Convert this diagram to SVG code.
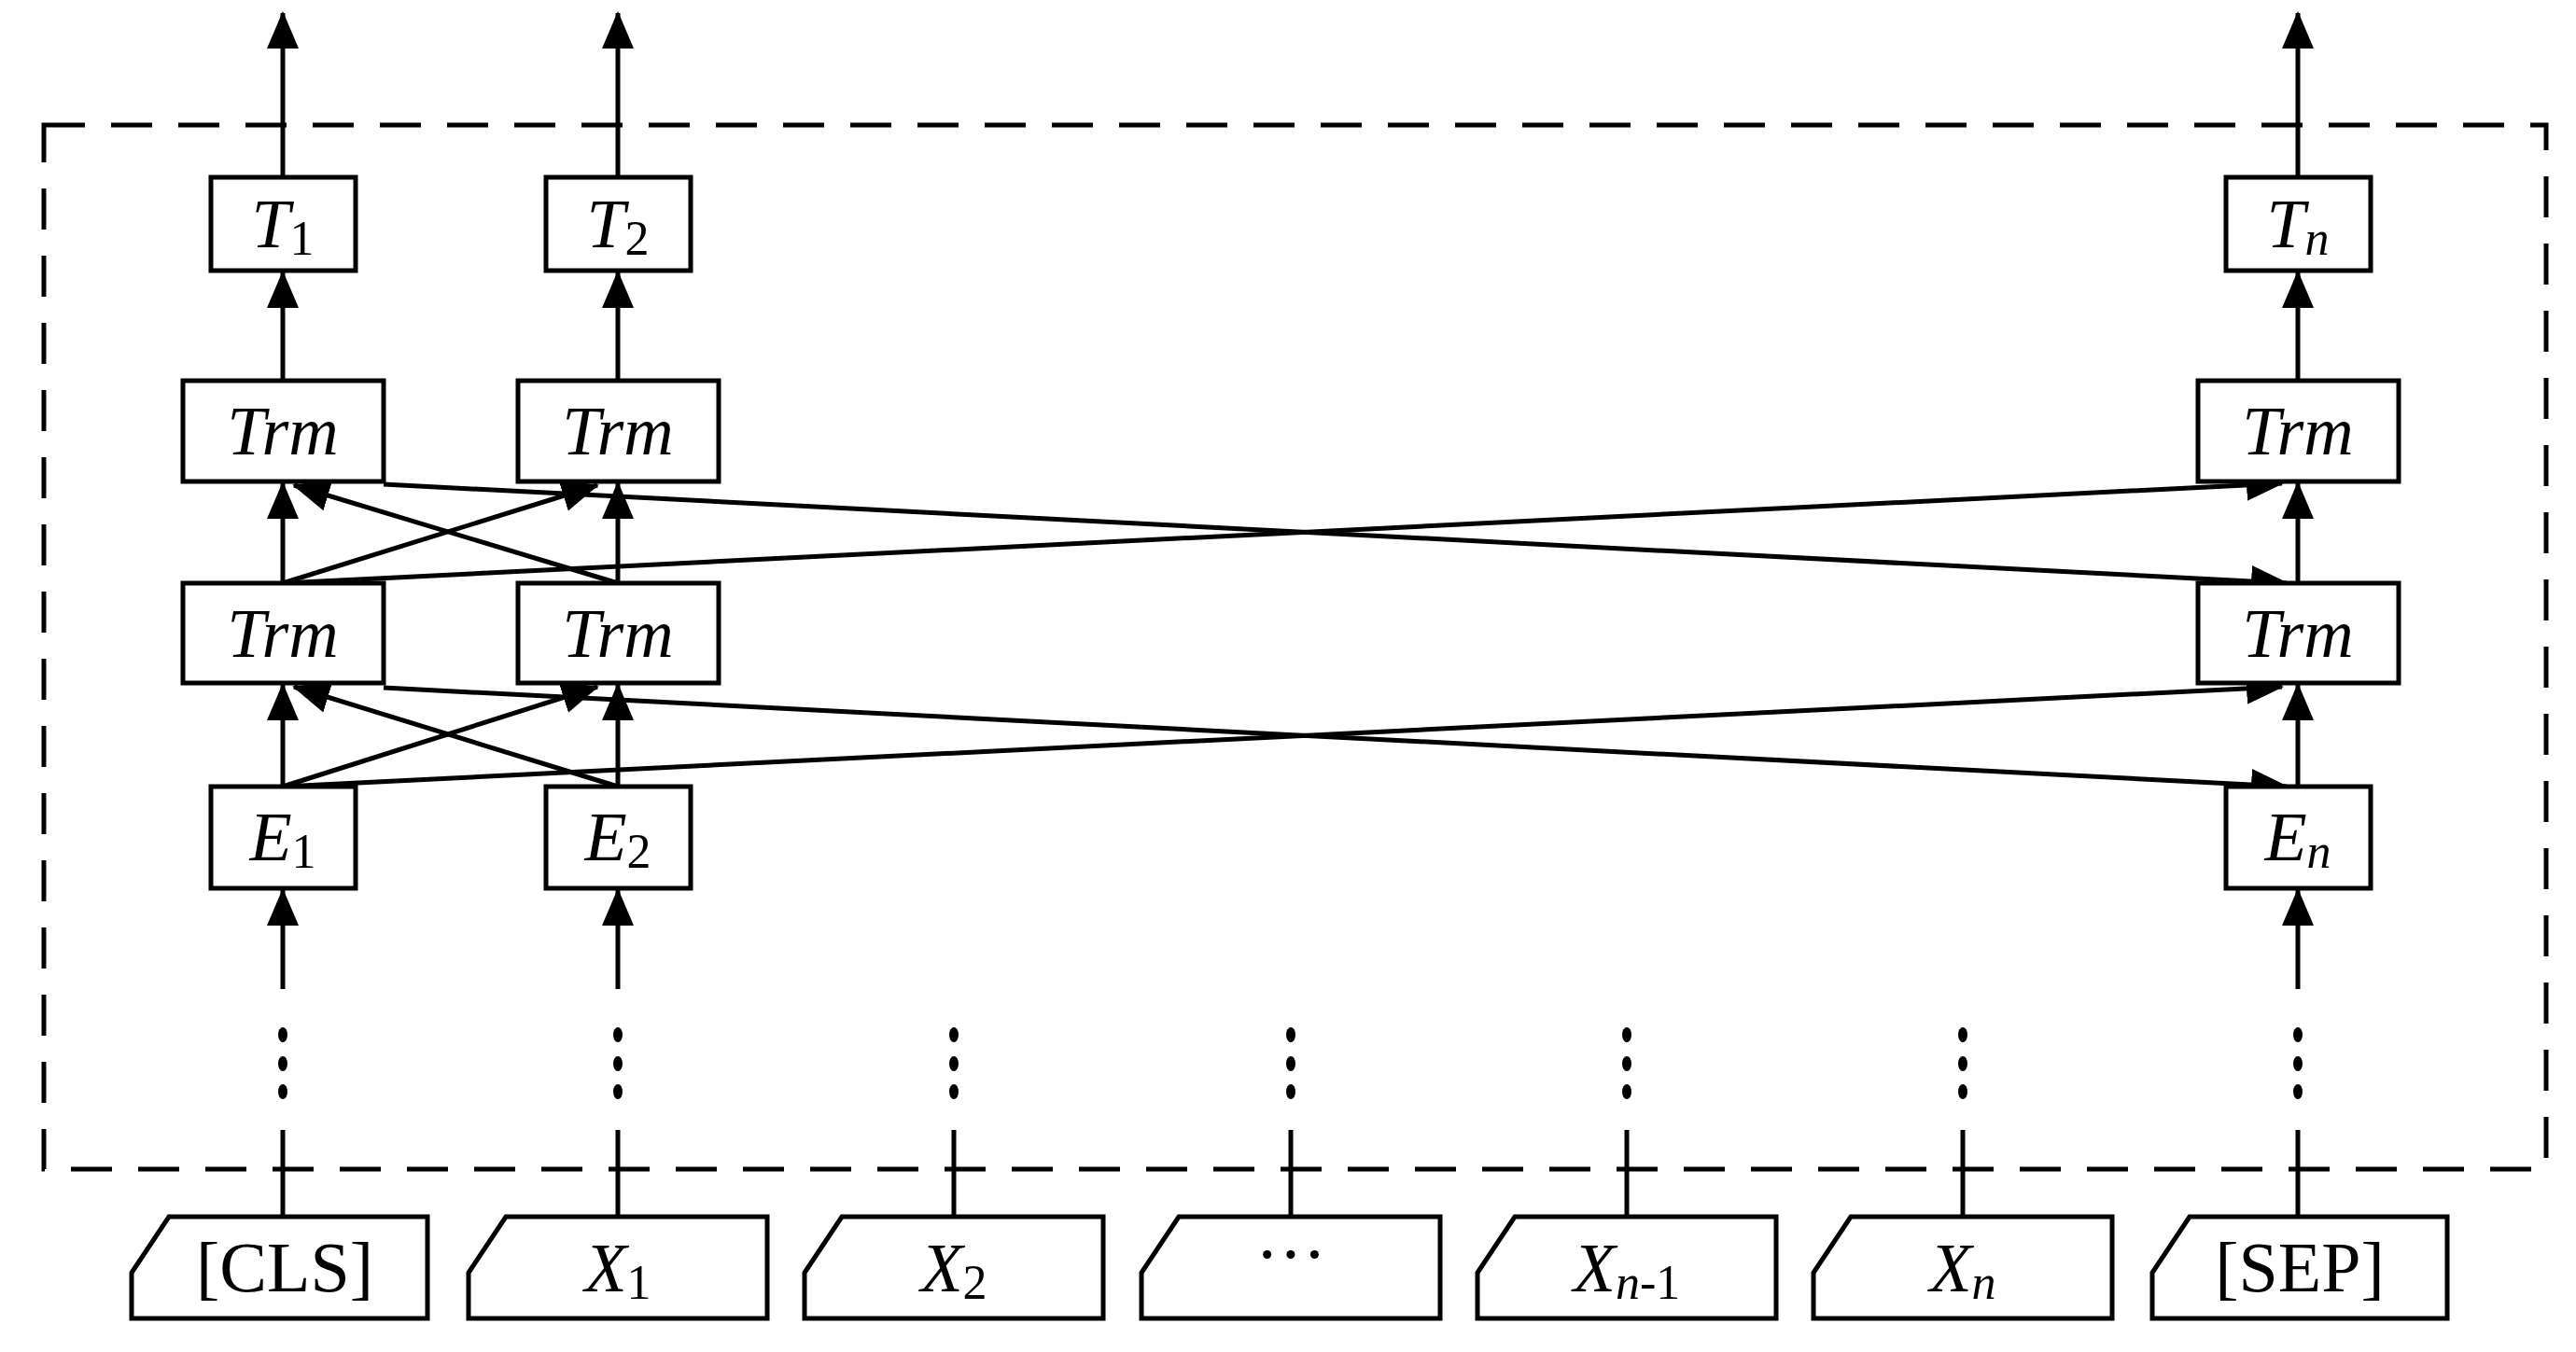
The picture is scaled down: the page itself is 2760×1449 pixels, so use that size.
<svg xmlns="http://www.w3.org/2000/svg" width="2760" height="1449" viewBox="0 0 2760 1449">
<defs>
<marker id="ah" markerUnits="userSpaceOnUse" markerWidth="40" markerHeight="40" viewBox="0 0 40 40" refX="38" refY="20" orient="auto"><path d="M0,3 L40,20 L0,37 Z" fill="#000"/></marker>
</defs>
<style>
.b{fill:#fff;stroke:#000;stroke-width:5}
.l{stroke:#000;stroke-width:5;fill:none}
.a{stroke:#000;stroke-width:5;fill:none;marker-end:url(#ah)}
.t{font-family:"Liberation Serif",serif;font-style:italic;font-size:74px;text-anchor:middle}
.s{font-size:52px;font-style:normal}
.si{font-size:52px}
.r{font-family:"Liberation Serif",serif;font-size:76px;text-anchor:middle}
</style>
<rect x="47" y="134" width="2681" height="1119" fill="none" stroke="#000" stroke-width="5" stroke-dasharray="44 28"/>
<g id="connectors">
<line class="a" x1="303" y1="190" x2="303" y2="14"/>
<line class="a" x1="662" y1="190" x2="662" y2="14"/>
<line class="a" x1="2462" y1="190" x2="2462" y2="14"/>
<line class="a" x1="303" y1="408" x2="303" y2="292"/>
<line class="a" x1="662" y1="408" x2="662" y2="292"/>
<line class="a" x1="2462" y1="408" x2="2462" y2="292"/>
<line class="a" x1="303" y1="625" x2="303" y2="518"/>
<line class="a" x1="662" y1="625" x2="662" y2="518"/>
<line class="a" x1="2462" y1="625" x2="2462" y2="518"/>
<line class="a" x1="303" y1="843" x2="303" y2="734"/>
<line class="a" x1="662" y1="843" x2="662" y2="734"/>
<line class="a" x1="2462" y1="843" x2="2462" y2="734"/>
<line class="a" x1="303" y1="1060" x2="303" y2="954"/>
<line class="a" x1="662" y1="1060" x2="662" y2="954"/>
<line class="a" x1="2462" y1="1060" x2="2462" y2="954"/>
<line class="a" x1="303" y1="625" x2="640" y2="520"/>
<line class="a" x1="662" y1="625" x2="315" y2="520"/>
<line class="a" x1="303" y1="625" x2="2445" y2="518"/>
<line class="a" x1="411" y1="519" x2="2450" y2="625"/>
<line class="a" x1="303" y1="843" x2="640" y2="736"/>
<line class="a" x1="662" y1="843" x2="315" y2="736"/>
<line class="a" x1="303" y1="843" x2="2445" y2="736"/>
<line class="a" x1="411" y1="737" x2="2450" y2="843"/>
<g fill="#000">
<ellipse cx="303" cy="1109" rx="5" ry="8"/><ellipse cx="303" cy="1140" rx="5" ry="8"/><ellipse cx="303" cy="1170" rx="5" ry="8"/>
<ellipse cx="662" cy="1109" rx="5" ry="8"/><ellipse cx="662" cy="1140" rx="5" ry="8"/><ellipse cx="662" cy="1170" rx="5" ry="8"/>
<ellipse cx="1022" cy="1109" rx="5" ry="8"/><ellipse cx="1022" cy="1140" rx="5" ry="8"/><ellipse cx="1022" cy="1170" rx="5" ry="8"/>
<ellipse cx="1383" cy="1109" rx="5" ry="8"/><ellipse cx="1383" cy="1140" rx="5" ry="8"/><ellipse cx="1383" cy="1170" rx="5" ry="8"/>
<ellipse cx="1743" cy="1109" rx="5" ry="8"/><ellipse cx="1743" cy="1140" rx="5" ry="8"/><ellipse cx="1743" cy="1170" rx="5" ry="8"/>
<ellipse cx="2103" cy="1109" rx="5" ry="8"/><ellipse cx="2103" cy="1140" rx="5" ry="8"/><ellipse cx="2103" cy="1170" rx="5" ry="8"/>
<ellipse cx="2462" cy="1109" rx="5" ry="8"/><ellipse cx="2462" cy="1140" rx="5" ry="8"/><ellipse cx="2462" cy="1170" rx="5" ry="8"/>
</g>
<line class="l" x1="303" y1="1211" x2="303" y2="1304"/>
<line class="l" x1="662" y1="1211" x2="662" y2="1304"/>
<line class="l" x1="1022" y1="1211" x2="1022" y2="1304"/>
<line class="l" x1="1383" y1="1211" x2="1383" y2="1304"/>
<line class="l" x1="1743" y1="1211" x2="1743" y2="1304"/>
<line class="l" x1="2103" y1="1211" x2="2103" y2="1304"/>
<line class="l" x1="2462" y1="1211" x2="2462" y2="1304"/>
</g>
<g id="T1"><rect class="b" x="226" y="190" width="155" height="100"/><text class="t" x="303" y="265">T<tspan class="s" dy="8">1</tspan></text></g>
<g id="T2"><rect class="b" x="585" y="190" width="155" height="100"/><text class="t" x="662" y="265">T<tspan class="s" dy="8">2</tspan></text></g>
<g id="Tn"><rect class="b" x="2385" y="190" width="155" height="100"/><text class="t" x="2462" y="265">T<tspan class="si" dy="8">n</tspan></text></g>
<g id="Trm1a"><rect class="b" x="196" y="408" width="215" height="108"/><text class="t" x="303" y="487">Trm</text></g>
<g id="Trm2a"><rect class="b" x="555" y="408" width="215" height="108"/><text class="t" x="662" y="487">Trm</text></g>
<g id="Trmna"><rect class="b" x="2355" y="408" width="215" height="108"/><text class="t" x="2462" y="487">Trm</text></g>
<g id="Trm1b"><rect class="b" x="196" y="625" width="215" height="107"/><text class="t" x="303" y="704">Trm</text></g>
<g id="Trm2b"><rect class="b" x="555" y="625" width="215" height="107"/><text class="t" x="662" y="704">Trm</text></g>
<g id="Trmnb"><rect class="b" x="2355" y="625" width="215" height="107"/><text class="t" x="2462" y="704">Trm</text></g>
<g id="E1"><rect class="b" x="226" y="843" width="155" height="109"/><text class="t" x="303" y="922">E<tspan class="s" dy="8">1</tspan></text></g>
<g id="E2"><rect class="b" x="585" y="843" width="155" height="109"/><text class="t" x="662" y="922">E<tspan class="s" dy="8">2</tspan></text></g>
<g id="En"><rect class="b" x="2385" y="843" width="155" height="109"/><text class="t" x="2462" y="922">E<tspan class="si" dy="8">n</tspan></text></g>
<g id="CLS"><path class="b" d="M181,1304 L458,1304 L458,1413 L141,1413 L141,1364 Z"/><text class="r" x="305" y="1384">[CLS]</text></g>
<g id="X1"><path class="b" d="M542,1304 L822,1304 L822,1413 L502,1413 L502,1364 Z"/><text class="t" x="662" y="1384">X<tspan class="s" dy="8">1</tspan></text></g>
<g id="X2"><path class="b" d="M902,1304 L1182,1304 L1182,1413 L862,1413 L862,1364 Z"/><text class="t" x="1022" y="1384">X<tspan class="s" dy="8">2</tspan></text></g>
<g id="Xdots"><path class="b" d="M1263,1304 L1543,1304 L1543,1413 L1223,1413 L1223,1364 Z"/><text class="r" x="1383" y="1370">···</text></g>
<g id="Xn1"><path class="b" d="M1623,1304 L1903,1304 L1903,1413 L1583,1413 L1583,1364 Z"/><text class="t" x="1743" y="1384">X<tspan class="si" dy="8">n</tspan><tspan class="s">-1</tspan></text></g>
<g id="Xn"><path class="b" d="M1983,1304 L2263,1304 L2263,1413 L1943,1413 L1943,1364 Z"/><text class="t" x="2103" y="1384">X<tspan class="si" dy="8">n</tspan></text></g>
<g id="SEP"><path class="b" d="M2346,1304 L2622,1304 L2622,1413 L2306,1413 L2306,1364 Z"/><text class="r" x="2464" y="1384">[SEP]</text></g>
</svg>
